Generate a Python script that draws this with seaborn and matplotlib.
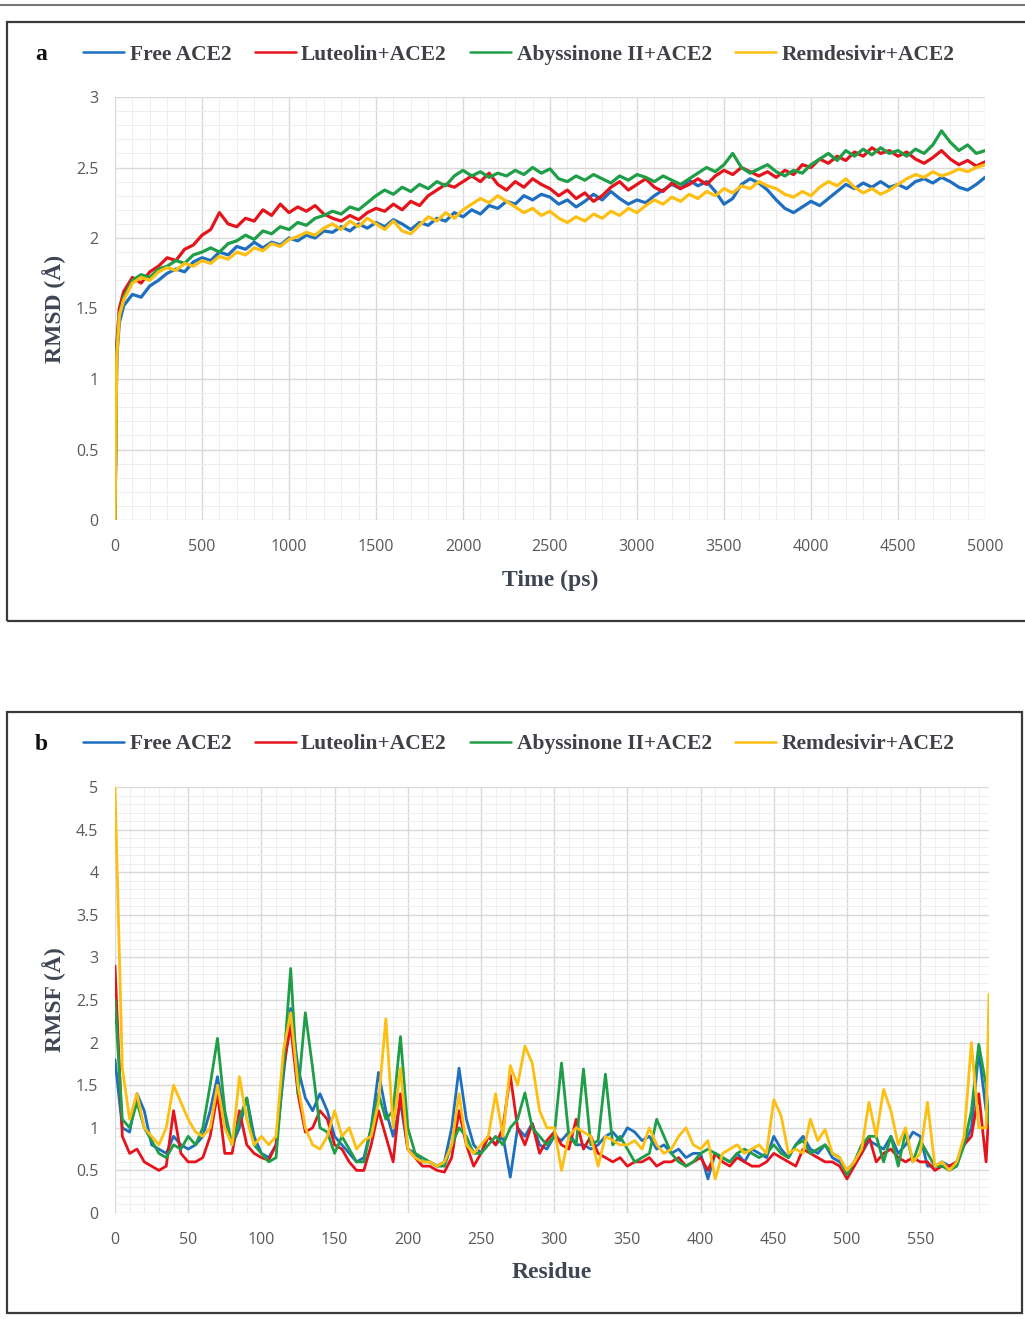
import numpy as np
import pandas as pd
import matplotlib
matplotlib.use("Agg")
import matplotlib.pyplot as plt
from matplotlib.patches import Rectangle
from matplotlib.lines import Line2D
from matplotlib.ticker import MultipleLocator
import seaborn as sns

# ---- data ----
series_names = ["Free ACE2", "Luteolin+ACE2", "Abyssinone II+ACE2", "Remdesivir+ACE2"]
series_colors = ["#1f6fc0", "#e5141c", "#1f9e48", "#fcbf12"]

# RMSD (panel a): time in ps
time_ps = np.concatenate([[0, 10, 25], np.arange(50, 5001, 50)])

rmsd_free = [
    0.00, 1.15, 1.40,
    1.52, 1.60, 1.58, 1.66, 1.70, 1.75, 1.78, 1.76, 1.83, 1.86,
    1.84, 1.90, 1.88, 1.94, 1.92, 1.97, 1.93, 1.97, 1.95, 2.00,
    1.98, 2.02, 2.00, 2.05, 2.04, 2.08, 2.05, 2.10, 2.07, 2.11,
    2.08, 2.13, 2.10, 2.06, 2.11, 2.09, 2.14, 2.12, 2.18, 2.15,
    2.20, 2.17, 2.23, 2.21, 2.26, 2.24, 2.30, 2.27, 2.31, 2.29,
    2.24, 2.27, 2.22, 2.26, 2.31, 2.27, 2.33, 2.28, 2.24, 2.27,
    2.25, 2.30, 2.34, 2.38, 2.35, 2.41, 2.37, 2.40, 2.33, 2.24,
    2.28, 2.38, 2.42, 2.39, 2.34, 2.27, 2.21, 2.18, 2.22, 2.26,
    2.23, 2.28, 2.33, 2.38, 2.35, 2.39, 2.36, 2.40, 2.36, 2.38,
    2.35, 2.40, 2.42, 2.39, 2.43, 2.40, 2.36, 2.34, 2.38, 2.43,
]
rmsd_luteolin = [
    0.00, 1.25, 1.50,
    1.62, 1.72, 1.68, 1.76, 1.80, 1.86, 1.84, 1.92, 1.95, 2.02,
    2.06, 2.18, 2.10, 2.08, 2.14, 2.12, 2.20, 2.16, 2.24, 2.18,
    2.22, 2.19, 2.23, 2.17, 2.14, 2.12, 2.16, 2.13, 2.18, 2.21,
    2.19, 2.24, 2.20, 2.26, 2.23, 2.30, 2.34, 2.38, 2.36, 2.40,
    2.44, 2.40, 2.46, 2.38, 2.34, 2.40, 2.36, 2.42, 2.38, 2.35,
    2.30, 2.34, 2.28, 2.32, 2.26, 2.30, 2.36, 2.40, 2.34, 2.38,
    2.42, 2.36, 2.33, 2.39, 2.35, 2.38, 2.42, 2.38, 2.44, 2.48,
    2.45, 2.50, 2.47, 2.44, 2.47, 2.43, 2.48, 2.45, 2.52, 2.50,
    2.56, 2.53, 2.58, 2.55, 2.61, 2.58, 2.64, 2.60, 2.62, 2.58,
    2.61, 2.56, 2.53, 2.57, 2.62, 2.56, 2.52, 2.55, 2.51, 2.54,
]
rmsd_abyssinone = [
    0.00, 1.20, 1.45,
    1.58, 1.70, 1.74, 1.72, 1.78, 1.80, 1.84, 1.82, 1.88, 1.90,
    1.93, 1.90, 1.96, 1.98, 2.02, 1.99, 2.05, 2.03, 2.08, 2.06,
    2.11, 2.09, 2.14, 2.16, 2.19, 2.17, 2.22, 2.20, 2.25, 2.30,
    2.34, 2.31, 2.36, 2.33, 2.38, 2.35, 2.40, 2.37, 2.44, 2.48,
    2.44, 2.47, 2.43, 2.46, 2.44, 2.48, 2.45, 2.50, 2.46, 2.49,
    2.42, 2.40, 2.44, 2.41, 2.45, 2.42, 2.39, 2.44, 2.41, 2.45,
    2.43, 2.40, 2.44, 2.41, 2.38, 2.42, 2.46, 2.50, 2.47, 2.52,
    2.60, 2.50, 2.46, 2.49, 2.52, 2.47, 2.44, 2.48, 2.46, 2.52,
    2.56, 2.60, 2.55, 2.62, 2.58, 2.63, 2.59, 2.64, 2.60, 2.62,
    2.58, 2.63, 2.60, 2.66, 2.76, 2.68, 2.62, 2.66, 2.60, 2.62,
]
rmsd_remdesivir = [
    0.00, 1.15, 1.45,
    1.56, 1.68, 1.72, 1.70, 1.76, 1.79, 1.77, 1.82, 1.80, 1.84,
    1.82, 1.87, 1.85, 1.90, 1.88, 1.93, 1.91, 1.96, 1.94, 1.99,
    2.01, 2.04, 2.02, 2.07, 2.10, 2.06, 2.12, 2.08, 2.14, 2.10,
    2.06, 2.12, 2.05, 2.03, 2.09, 2.15, 2.12, 2.18, 2.14, 2.20,
    2.24, 2.28, 2.25, 2.30, 2.26, 2.22, 2.18, 2.21, 2.16, 2.19,
    2.14, 2.11, 2.15, 2.12, 2.17, 2.14, 2.19, 2.16, 2.21, 2.18,
    2.23, 2.27, 2.24, 2.29, 2.26, 2.31, 2.28, 2.33, 2.30, 2.35,
    2.32, 2.37, 2.35, 2.40, 2.37, 2.35, 2.31, 2.29, 2.33, 2.30,
    2.36, 2.40, 2.37, 2.42, 2.36, 2.32, 2.35, 2.31, 2.34, 2.38,
    2.42, 2.45, 2.43, 2.47, 2.44, 2.46, 2.49, 2.47, 2.50, 2.52,
]

# RMSF (panel b): residue index
residue = np.append(np.arange(0, 600, 5), 597)

rmsf_free = [
    1.80, 1.00, 0.95, 1.40, 1.20, 0.80, 0.75, 0.70, 0.90, 0.80,
    0.75, 0.80, 0.90, 1.20, 1.60, 1.10, 0.80, 1.00, 1.35, 0.90,
    0.70, 0.65, 0.80, 1.60, 2.40, 1.70, 1.35, 1.20, 1.40, 1.20,
    0.90, 0.80, 0.70, 0.60, 0.65, 1.00, 1.65, 1.20, 0.90, 1.30,
    0.75, 0.70, 0.60, 0.60, 0.55, 0.60, 1.00, 1.70, 1.10, 0.80,
    0.70, 0.90, 0.80, 0.90, 0.42, 1.00, 0.90, 1.05, 0.80, 0.75,
    0.90, 0.85, 0.95, 0.80, 0.80, 0.75, 0.80, 0.90, 0.95, 0.85,
    1.00, 0.95, 0.85, 0.90, 0.75, 0.80, 0.70, 0.75, 0.65, 0.70,
    0.70, 0.40, 0.70, 0.65, 0.60, 0.70, 0.60, 0.75, 0.70, 0.65,
    0.90, 0.75, 0.65, 0.80, 0.90, 0.75, 0.70, 0.80, 0.65, 0.60,
    0.50, 0.60, 0.70, 0.85, 0.80, 0.75, 0.90, 0.70, 0.80, 0.95,
    0.90, 0.55, 0.55, 0.60, 0.55, 0.60, 0.80, 1.00, 1.90, 1.20,
    1.25,
]
rmsf_luteolin = [
    2.90, 0.90, 0.70, 0.75, 0.60, 0.55, 0.50, 0.55, 1.20, 0.70,
    0.60, 0.60, 0.65, 0.90, 1.40, 0.70, 0.70, 1.20, 0.80, 0.70,
    0.65, 0.62, 0.80, 1.70, 2.20, 1.40, 0.95, 1.00, 1.20, 1.10,
    0.80, 0.75, 0.60, 0.50, 0.50, 0.80, 1.20, 0.90, 0.60, 1.40,
    0.75, 0.65, 0.55, 0.55, 0.50, 0.48, 0.65, 1.20, 0.80, 0.55,
    0.70, 0.90, 0.80, 1.00, 1.62, 1.00, 0.80, 1.05, 0.70, 0.85,
    0.95, 0.80, 0.75, 1.10, 0.75, 0.90, 0.70, 0.65, 0.60, 0.65,
    0.55, 0.60, 0.60, 0.65, 0.55, 0.60, 0.60, 0.65, 0.55, 0.60,
    0.65, 0.50, 0.70, 0.60, 0.55, 0.65, 0.60, 0.55, 0.55, 0.60,
    0.70, 0.65, 0.60, 0.55, 0.75, 0.70, 0.65, 0.60, 0.60, 0.55,
    0.40, 0.55, 0.70, 0.90, 0.60, 0.70, 0.75, 0.65, 0.60, 0.65,
    0.60, 0.60, 0.50, 0.55, 0.55, 0.60, 0.80, 0.90, 1.40, 0.60,
    1.25,
]
rmsf_abyssinone = [
    2.50, 1.10, 1.00, 1.30, 1.00, 0.85, 0.70, 0.65, 0.80, 0.75,
    0.90, 0.80, 1.00, 1.50, 2.05, 1.20, 0.80, 1.10, 1.35, 0.80,
    0.70, 0.60, 0.65, 1.70, 2.87, 1.40, 2.35, 1.70, 1.00, 0.95,
    0.70, 0.90, 0.75, 0.60, 0.60, 1.00, 1.40, 1.10, 1.20, 2.07,
    1.00, 0.70, 0.65, 0.60, 0.55, 0.55, 0.80, 1.00, 0.90, 0.70,
    0.70, 0.80, 0.90, 0.80, 1.00, 1.10, 1.41, 1.00, 0.90, 0.80,
    0.90, 1.76, 0.90, 0.80, 1.69, 0.80, 0.85, 1.63, 0.80, 0.90,
    0.75, 0.60, 0.65, 0.70, 1.10, 0.90, 0.70, 0.60, 0.55, 0.60,
    0.70, 0.75, 0.70, 0.65, 0.60, 0.70, 0.75, 0.70, 0.65, 0.70,
    0.80, 0.70, 0.65, 0.80, 0.85, 0.70, 0.75, 0.80, 0.70, 0.65,
    0.45, 0.60, 0.80, 0.90, 0.90, 0.60, 0.90, 0.55, 0.95, 0.60,
    0.85, 0.70, 0.55, 0.55, 0.50, 0.55, 0.80, 1.20, 1.98, 1.50,
    1.05,
]
rmsf_remdesivir = [
    5.00, 1.70, 1.10, 1.40, 1.00, 0.90, 0.80, 1.00, 1.50, 1.30,
    1.10, 0.95, 0.90, 1.00, 1.50, 1.00, 0.80, 1.60, 1.10, 0.80,
    0.90, 0.80, 0.90, 1.90, 2.35, 1.50, 1.00, 0.80, 0.75, 0.90,
    1.20, 0.90, 1.00, 0.75, 0.85, 0.90, 1.30, 2.28, 1.00, 1.70,
    0.75, 0.65, 0.60, 0.60, 0.55, 0.60, 0.80, 1.40, 0.80, 0.70,
    0.80, 0.90, 1.40, 0.90, 1.73, 1.50, 1.96, 1.76, 1.20, 1.00,
    1.00, 0.50, 0.90, 1.00, 0.95, 0.90, 0.55, 0.90, 0.85, 0.80,
    0.80, 0.85, 0.75, 1.00, 0.80, 0.70, 0.75, 0.90, 1.00, 0.80,
    0.75, 0.85, 0.40, 0.70, 0.75, 0.80, 0.70, 0.75, 0.80, 0.70,
    1.33, 1.14, 0.70, 0.75, 0.70, 1.10, 0.85, 0.98, 0.70, 0.65,
    0.50, 0.60, 0.75, 1.30, 0.90, 1.45, 1.20, 0.80, 1.00, 0.60,
    0.70, 1.30, 0.55, 0.60, 0.50, 0.60, 0.90, 2.00, 1.00, 1.00,
    2.57,
]


def long_frame(x, ys, xname, yname):
    parts = []
    for name, y in zip(series_names, ys):
        parts.append(pd.DataFrame({xname: x, yname: y, "system": name}))
    return pd.concat(parts, ignore_index=True)


df_rmsd = long_frame(time_ps, [rmsd_free, rmsd_luteolin, rmsd_abyssinone, rmsd_remdesivir], "time", "rmsd")
df_rmsf = long_frame(residue, [rmsf_free, rmsf_luteolin, rmsf_abyssinone, rmsf_remdesivir], "residue", "rmsf")

sns.set_theme(style="white")
palette = dict(zip(series_names, series_colors))

W, H = 1025, 1319
fig = plt.figure(figsize=(W / 100, H / 100), dpi=100)

serif = "Liberation Serif"
tick_font = "Open Sans"
label_color = "#3f4553"


def style_axes(ax, xmajor, xminor, ymajor, yminor):
    ax.xaxis.set_major_locator(MultipleLocator(xmajor))
    ax.xaxis.set_minor_locator(MultipleLocator(xminor))
    ax.yaxis.set_major_locator(MultipleLocator(ymajor))
    ax.yaxis.set_minor_locator(MultipleLocator(yminor))
    ax.grid(which="major", color="#d9d9d9", linewidth=1.0)
    ax.grid(which="minor", color="#eeeeee", linewidth=0.7)
    ax.set_axisbelow(True)
    for s in ax.spines.values():
        s.set_visible(False)
    ax.tick_params(which="both", length=0)
    ax.tick_params(axis="x", pad=14)
    ax.tick_params(axis="y", pad=12)


def panel(ax, df, x, y, xlim, ylim, xlabel, ylabel, lw):
    sns.lineplot(data=df, x=x, y=y, hue="system", hue_order=series_names,
                 palette=palette, linewidth=lw, estimator=None, sort=False, ax=ax)
    ax.get_legend().remove()
    ax.set_xlim(*xlim)
    ax.set_ylim(*ylim)
    ax.set_xlabel(xlabel, fontfamily=serif, fontweight="bold", fontsize=17,
                  color=label_color, labelpad=10)
    ax.set_ylabel(ylabel, fontfamily=serif, fontweight="bold", fontsize=17,
                  color=label_color, labelpad=7)


def tick_text(ax):
    for lab in ax.get_xticklabels() + ax.get_yticklabels():
        lab.set_fontfamily(tick_font)
        lab.set_fontsize(11.5)
        lab.set_color("#595959")


# panel a
ax_a = fig.add_axes([115 / W, 1 - 520 / H, 870 / W, 423 / H])
panel(ax_a, df_rmsd, "time", "rmsd", (0, 5000), (0, 3), "Time (ps)", "RMSD (Å)", 2.3)
style_axes(ax_a, 500, 100, 0.5, 0.1)
ax_a.set_yticks([0, 0.5, 1, 1.5, 2, 2.5, 3], ["0", "0.5", "1", "1.5", "2", "2.5", "3"])
tick_text(ax_a)

# panel b
ax_b = fig.add_axes([115 / W, 1 - 1213 / H, 874 / W, 426 / H])
panel(ax_b, df_rmsf, "residue", "rmsf", (0, 597), (0, 5), "Residue", "RMSF (Å)", 2.0)
style_axes(ax_b, 50, 10, 0.5, 0.1)
ax_b.set_xticks(np.arange(0, 551, 50))
ax_b.set_yticks(np.arange(0, 5.01, 0.5), ["0", "0.5", "1", "1.5", "2", "2.5", "3", "3.5", "4", "4.5", "5"])
tick_text(ax_b)

# frames and top rule
fig.add_artist(Line2D([0, 1], [1 - 5 / H, 1 - 5 / H], transform=fig.transFigure,
                      color="#777777", linewidth=1.5))
fig.add_artist(Rectangle((7 / W, 1 - 621 / H), 1030 / W, 599 / H, transform=fig.transFigure,
                         fill=False, edgecolor="#3a3a3a", linewidth=1.6))
fig.add_artist(Rectangle((7 / W, 1 - 1313 / H), 1015 / W, 601 / H, transform=fig.transFigure,
                         fill=False, edgecolor="#3a3a3a", linewidth=1.6))

# legends and panel letters
handles = [Line2D([], [], color=c, linewidth=1.8) for c in series_colors]
for ypix, letter in [(55, "a"), (744, "b")]:
    fig.text(41 / W, 1 - ypix / H, letter, fontfamily=serif, fontweight="bold",
             fontsize=17, color="#111111", ha="center", va="center")
    leg = fig.legend(handles, series_names, loc="center left",
                     bbox_to_anchor=(64 / W, 1 - ypix / H), ncol=4, frameon=False,
                     handlelength=1.9, handletextpad=0.25, columnspacing=1.1,
                     prop={"family": serif, "weight": "bold", "size": 15.5})
    for t in leg.get_texts():
        t.set_color("#3f4147")

fig.savefig("out.png", dpi=100)
